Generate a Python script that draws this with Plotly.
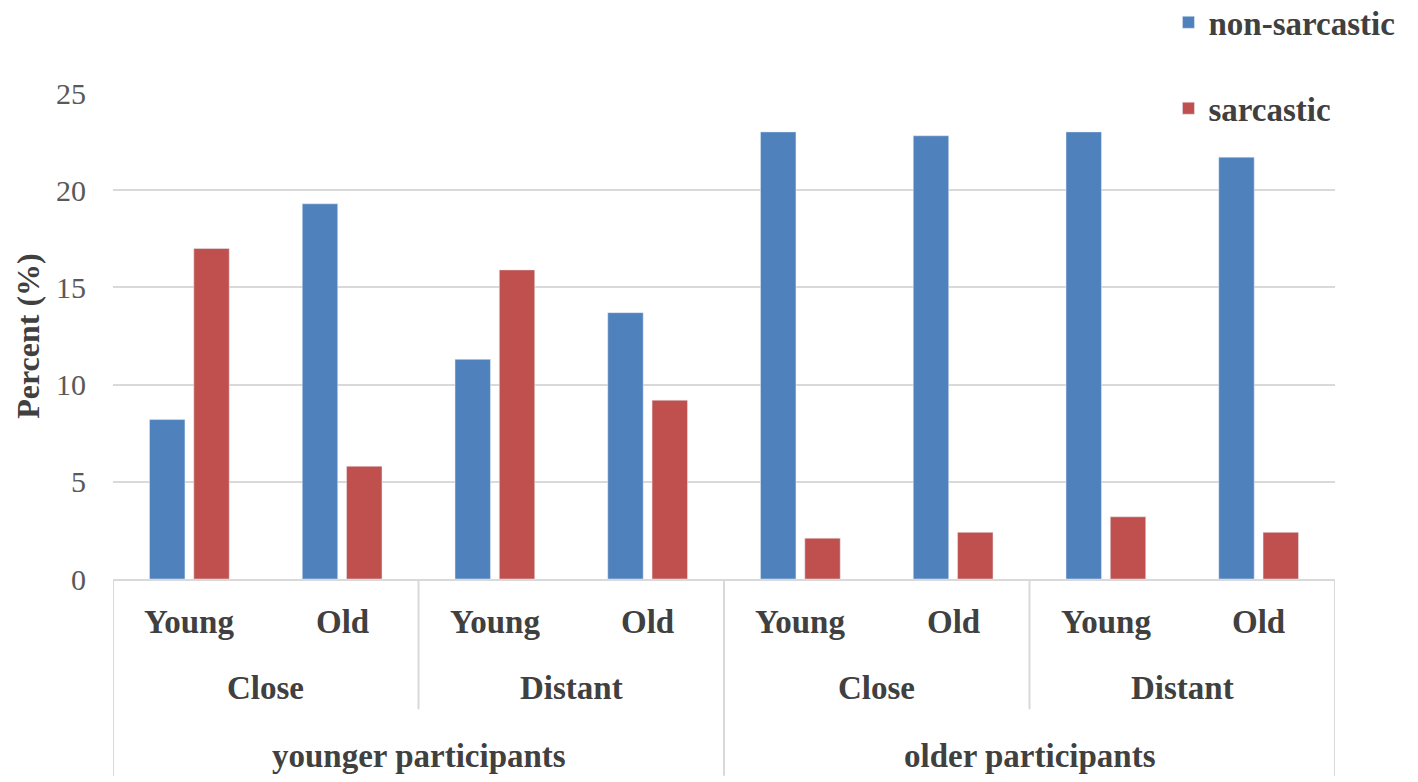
import plotly.graph_objects as go

# ---- data ----
participants = ["younger participants", "older participants"]
distance = ["Close", "Distant"]
target_age = ["Young", "Old"]
non_sarcastic = [8.2, 19.3, 11.3, 13.7, 23.0, 22.8, 23.0, 21.7]
sarcastic = [17.0, 5.8, 15.9, 9.2, 2.1, 2.4, 3.2, 2.4]
y_ticks = [0, 5, 10, 15, 20, 25]

# build category index (3-level hierarchy flattened)
cats = []
for p in participants:
    for d in distance:
        for a in target_age:
            cats.append((p, d, a))
xpos = list(range(len(cats)))

BLUE = "#4F81BD"
RED = "#C0504D"
GRID = "#D9D9D9"
FONT = "Liberation Serif"
TXT = "#404040"
LBL = 33

fig = go.Figure()
fig.add_trace(go.Bar(x=xpos, y=non_sarcastic, name="<b>non-sarcastic</b>",
                     marker=dict(color=BLUE), legendgroup="a"))
fig.add_trace(go.Bar(x=xpos, y=sarcastic, name="<b>sarcastic</b>",
                     marker=dict(color=RED), legendgroup="b"))

annotations = []
shapes = []
# level 1: Young / Old
for i, (p, d, a) in enumerate(cats):
    annotations.append(dict(x=i, y=-0.088, xref="x", yref="paper", text="<b>%s</b>" % a,
                            showarrow=False, font=dict(family=FONT, size=LBL, color=TXT),
                            xanchor="center", yanchor="middle"))
# level 2: Close / Distant
n2 = len(target_age)
for j in range(len(participants) * len(distance)):
    d = cats[j * n2][1]
    center = j * n2 + (n2 - 1) / 2
    annotations.append(dict(x=center, y=-0.224, xref="x", yref="paper", text="<b>%s</b>" % d,
                            showarrow=False, font=dict(family=FONT, size=LBL, color=TXT),
                            xanchor="center", yanchor="middle"))
# level 3: participants
n3 = len(distance) * len(target_age)
for k, p in enumerate(participants):
    center = k * n3 + (n3 - 1) / 2
    annotations.append(dict(x=center, y=-0.365, xref="x", yref="paper", text="<b>%s</b>" % p,
                            showarrow=False, font=dict(family=FONT, size=LBL, color=TXT),
                            xanchor="center", yanchor="middle"))

# separators
for j in range(1, len(participants) * len(distance)):
    if j % len(distance) == 0:
        continue
    b = j * n2 - 0.5
    shapes.append(dict(type="line", xref="x", yref="paper", x0=b, x1=b, y0=0, y1=-0.268,
                       line=dict(color=GRID, width=2)))
for k in range(len(participants) + 1):
    b = k * n3 - 0.5
    shapes.append(dict(type="line", xref="x", yref="paper", x0=b, x1=b, y0=0, y1=-0.405,
                       line=dict(color=GRID, width=2)))

fig.update_layout(
    width=1418, height=782,
    margin=dict(l=113, r=83, t=93, b=203, autoexpand=False),
    paper_bgcolor="white", plot_bgcolor="white",
    barmode="group", bargap=0.42, bargroupgap=0.2,
    font=dict(family=FONT, color=TXT),
    annotations=annotations, shapes=shapes,
    showlegend=True,
    legend=dict(x=0.8637, y=1.203, xanchor="left", yanchor="top",
                orientation="v", traceorder="grouped", tracegroupgap=40,
                font=dict(family=FONT, size=LBL, color=TXT),
                bgcolor="rgba(0,0,0,0)", itemwidth=30),
)
fig.update_xaxes(range=[-0.5, len(cats) - 0.5], showticklabels=False, showgrid=False,
                 zeroline=False, showline=True, linecolor=GRID, linewidth=2, ticks="",
                 fixedrange=True)
fig.update_yaxes(range=[0, 25], tickvals=y_ticks, showgrid=True, gridcolor=GRID, gridwidth=2,
                 zeroline=False, showline=False, ticks="",
                 tickfont=dict(family=FONT, size=30, color="#595959"),
                 ticklabelstandoff=26,
                 title=dict(text="<b>Percent (%)</b>", font=dict(family=FONT, size=32, color=TXT),
                            standoff=6))

fig.write_html("out.html",
               config={"displayModeBar": False},
               post_script="document.body.style.margin='0';document.body.style.overflow='hidden';")
